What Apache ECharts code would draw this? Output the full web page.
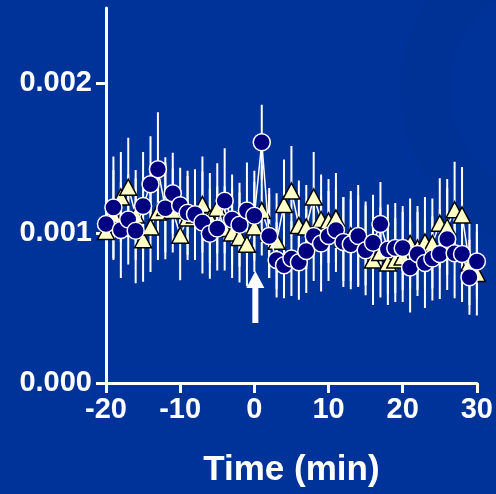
<!DOCTYPE html>
<html>
<head>
<meta charset="utf-8">
<script src="https://cdn.jsdelivr.net/npm/echarts@6/dist/echarts.min.js"></script>
<style>html,body{margin:0;padding:0;background:#003399;}#c{width:496px;height:494px;}</style>
</head>
<body>
<div id="c"></div>
<script>
// Time points (min)
const times = [-20,-19,-18,-17,-16,-15,-14,-13,-12,-11,-10,-9,-8,-7,-6,-5,-4,-3,-2,-1,0,1,2,3,4,5,6,7,8,9,10,11,12,13,14,15,16,17,18,19,20,21,22,23,24,25,26,27,28,29,30];
// Circle series (navy)
const circleVals = [0.00106,0.00117,0.00102,0.00109,0.001015,0.00118,0.001325,0.001425,0.001165,0.001265,0.001185,0.001135,0.001125,0.00107,0.000995,0.00103,0.001215,0.00109,0.001055,0.00115,0.001115,0.001605,0.00098,0.00082,0.000785,0.00083,0.000805,0.00088,0.00098,0.00093,0.00098,0.00102,0.00094,0.000925,0.00098,0.000885,0.000935,0.00106,0.00089,0.0009,0.0009,0.00077,0.00086,0.0008,0.00083,0.00086,0.00096,0.000865,0.00086,0.000705,0.00081];
const circleErr = [0.00030,0.00034,0.00032,0.00030,0.00035,0.00036,0.00032,0.00038,0.00034,0.00027,0.00025,0.00028,0.00030,0.00034,0.00030,0.00028,0.00035,0.00030,0.00028,0.00032,0.00030,0.00025,0.00028,0.00025,0.00022,0.00025,0.00025,0.00028,0.00030,0.00032,0.00030,0.00028,0.00030,0.00030,0.00034,0.00030,0.00032,0.00028,0.00030,0.00030,0.00028,0.00030,0.00028,0.00030,0.00028,0.00030,0.00034,0.00030,0.00032,0.00025,0.00025];
// Triangle series (pale yellow)
const triVals = [0.00101,0.00112,0.00124,0.001305,0.00112,0.000955,0.00104,0.00114,0.00117,0.00115,0.000985,0.0011,0.00112,0.00119,0.0011,0.001165,0.00103,0.001,0.00097,0.000925,0.00104,0.00115,0.001,0.000945,0.00119,0.00128,0.00105,0.00104,0.00124,0.00109,0.00108,0.0011,0.00096,0.00098,0.00095,0.00093,0.00082,0.00087,0.0008,0.00082,0.00084,0.00093,0.0009,0.00094,0.00093,0.001065,0.00104,0.001155,0.00112,0.0008,0.00073];
const triErr = [0.00028,0.00030,0.00030,0.00033,0.00030,0.00028,0.00030,0.00032,0.00030,0.00028,0.00030,0.00028,0.00030,0.00032,0.00030,0.00030,0.00028,0.00030,0.00030,0.00028,0.00030,0.00030,0.00030,0.00032,0.00030,0.00030,0.00030,0.00028,0.00030,0.00030,0.00028,0.00030,0.00028,0.00030,0.00030,0.00028,0.00030,0.00030,0.00028,0.00028,0.00030,0.00030,0.00028,0.00030,0.00030,0.00030,0.00032,0.00032,0.00032,0.00028,0.00028];
const xTicks = [-20,-10,0,10,20,30];
const yTicks = [0,0.001,0.002];

const circleData = times.map((t,i)=>[t,circleVals[i]]);
const triData = times.map((t,i)=>[t,triVals[i]]);
const errData = [];
times.forEach((t,i)=>{
  errData.push([t,triVals[i]-triErr[i],triVals[i]+triErr[i]]);
  errData.push([t,circleVals[i]-circleErr[i],circleVals[i]+circleErr[i]]);
});

const chart = echarts.init(document.getElementById('c'));
const fontFam = '"Liberation Sans", Arial, sans-serif';
const option = {
  backgroundColor: '#003399',
  animation: false,
  grid: {left:106, right:14, top:8, bottom:111, containLabel:false},
  xAxis: {
    type:'value', min:-20, max:30, interval:10,
    name:'Time (min)', nameLocation:'middle', nameGap:70,
    nameTextStyle:{color:'#fff', fontSize:35, fontWeight:'bold', fontFamily:fontFam},
    axisLine:{show:true, onZero:false, lineStyle:{color:'#fff', width:3}},
    axisTick:{show:true, length:10, lineStyle:{color:'#fff', width:3}},
    axisLabel:{color:'#fff', fontSize:29, fontWeight:'bold', fontFamily:fontFam, margin:12, showMaxLabel:true},
    splitLine:{show:false}
  },
  yAxis: {
    type:'value', min:0, max:0.0025,
    axisLine:{show:true, onZero:false, lineStyle:{color:'#fff', width:3}},
    axisTick:{show:true, length:10, customValues:yTicks, lineStyle:{color:'#fff', width:3}},
    axisLabel:{color:'#fff', fontSize:29, fontWeight:'bold', fontFamily:fontFam, margin:14, customValues:yTicks,
      formatter:v=>v.toFixed(3)},
    splitLine:{show:false}
  },
  series: [
    {
      type:'custom', z:1,
      renderItem:(params, api)=>{
        const lo = api.coord([api.value(0), api.value(1)]);
        const hi = api.coord([api.value(0), api.value(2)]);
        return {type:'line', shape:{x1:lo[0], y1:lo[1], x2:hi[0], y2:hi[1]}, style:{stroke:'#ffffff', lineWidth:2}};
      },
      encode:{x:0, y:[1,2]},
      data: errData
    },
    {
      type:'line', z:2, data: triData,
      symbol:'triangle', symbolSize:[17,16],
      lineStyle:{color:'#ffffff', width:1.5},
      itemStyle:{color:'#FFFFC8', borderColor:'#000000', borderWidth:1.5}
    },
    {
      type:'line', z:3, data: circleData,
      symbol:'circle', symbolSize:17,
      lineStyle:{color:'#ffffff', width:1.5},
      itemStyle:{color:'#000080', borderColor:'#ffffff', borderWidth:1.5}
    }
  ]
};
chart.setOption(option);
const p = chart.convertToPixel({gridIndex:0}, [0, 0]);
const ax = p[0];
chart.setOption({
  graphic: [
    {type:'ring', z:-10, silent:true, shape:{cx:560, cy:90, r:160, r0:110}, style:{fill:'rgba(0,20,100,0.08)'}},
    {type:'polygon', z:100, shape:{points:[[ax+1,271],[ax+10,288],[ax+4,288],[ax+4,323],[ax-2,323],[ax-2,288],[ax-8,288]]}, style:{fill:'#ffffff'}}
  ]
});
</script>
</body>
</html>
